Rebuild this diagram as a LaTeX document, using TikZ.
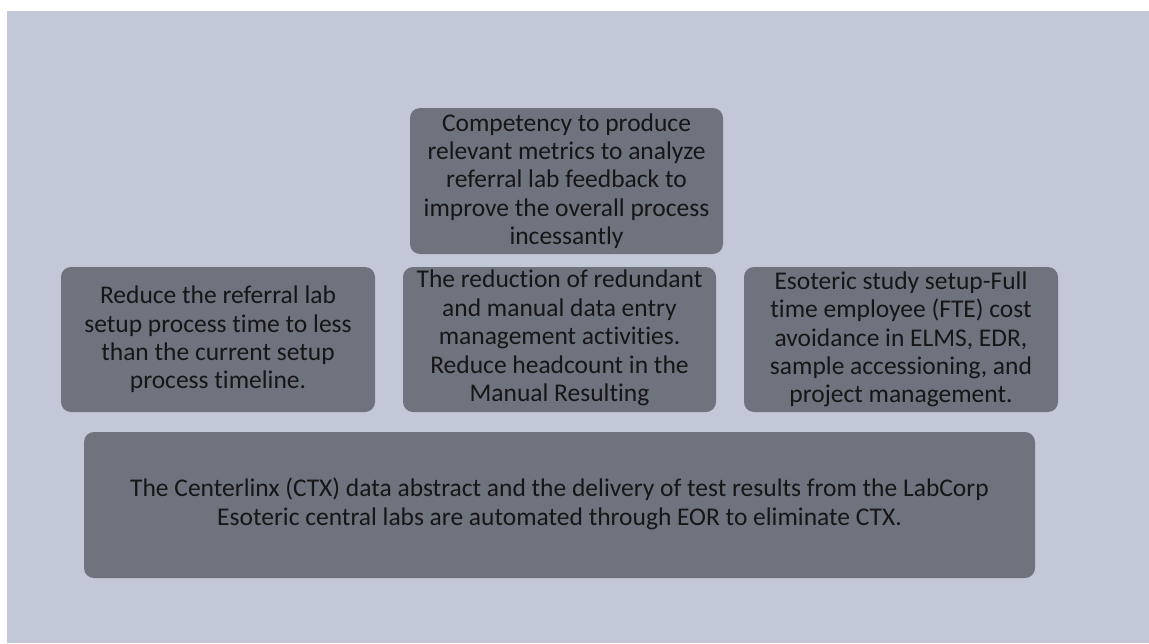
\documentclass[tikz,border=0pt]{standalone}
\usepackage{fontspec}
\setmainfont{Carlito}[Ligatures=NoCommon]
\definecolor{pagebg}{HTML}{C2C8D8}
\definecolor{boxfill}{HTML}{6E737E}
\definecolor{boxtext}{HTML}{161616}
\begin{document}
\begin{tikzpicture}[x=1pt,y=-1pt,
  goalbox/.style={fill=boxfill, rounded corners=10pt, draw=none},
  goaltext/.style={text=boxtext, align=center, inner sep=0pt, font=\fontsize{25.5}{28.4}\selectfont}]
  % canvas
  \fill[white] (0,0) rectangle (1149,643);
  \fill[pagebg] (7,11) rectangle (1149,643);
  \useasboundingbox (0,0) rectangle (1149,643);

  % boxes
  \fill[goalbox] (410,108) rectangle (723,254);
  \fill[goalbox] (61,267) rectangle (375,412);
  \fill[goalbox] (403,267) rectangle (716,412);
  \fill[goalbox] (744,267) rectangle (1058,412);
  \fill[goalbox] (84,432) rectangle (1035,578);

  % texts
  \node[goaltext] (top) at (566.5,181) {Competency to produce\\relevant metrics to analyze\\referral lab feedback to\\improve the overall process\\incessantly};
  \node[goaltext] (left) at (218,339.5) {Reduce the referral lab\\setup process time to less\\than the current setup\\process timeline.};
  \node[goaltext] (mid) at (559.5,338) {The reduction of redundant\\and manual data entry\\management activities.\\Reduce headcount in the\\Manual Resulting};
  \node[goaltext] (right) at (901,339.5) {Esoteric study setup-Full\\time employee (FTE) cost\\avoidance in ELMS, EDR,\\sample accessioning, and\\project management.};
  \node[goaltext] (bottom) at (559.5,504) {The Centerlinx (CTX) data abstract and the delivery of test results from the LabCorp\\Esoteric central labs are automated through EOR to eliminate CTX.};
\end{tikzpicture}
\end{document}
